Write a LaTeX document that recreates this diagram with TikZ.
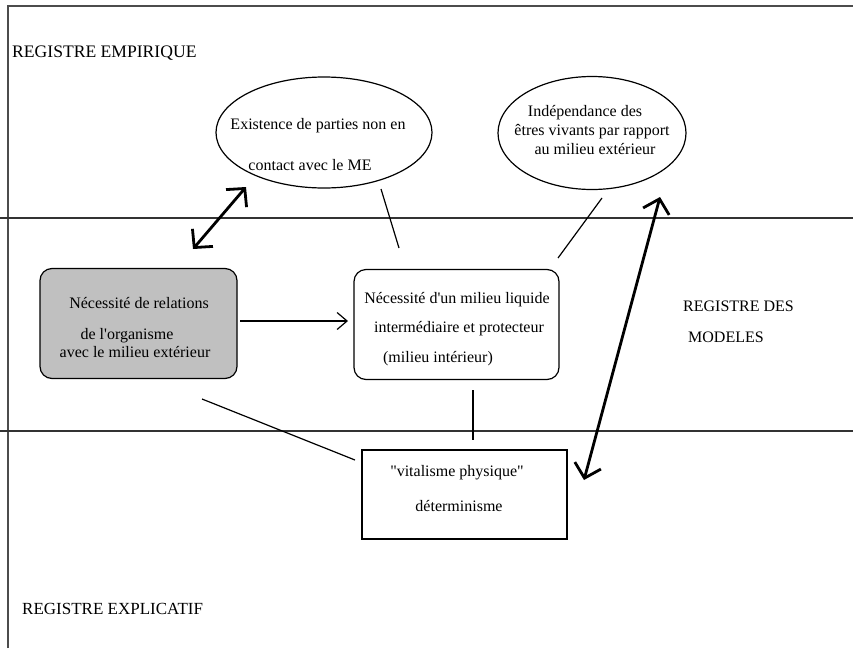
\documentclass[tikz,border=0pt]{standalone}
\usepackage{fontspec}
\setmainfont{Liberation Serif}[Ligatures=TeXOff]
\usetikzlibrary{shapes.geometric,arrows.meta}
\begin{document}
\begin{tikzpicture}[x=1pt,y=-1pt,
  txt/.style={inner sep=0pt, anchor=base, font=\fontsize{16}{19}\selectfont},
  txtw/.style={txt, anchor=base west},
  ellip/.style={draw, ellipse, line width=1.2pt, inner sep=0pt},
  rbox/.style={draw, rounded corners=12pt, line width=1.2pt, inner sep=0pt},
  sbox/.style={draw, line width=1.2pt, inner sep=0pt},
  thin/.style={line width=1.2pt},
  band/.style={line width=1.4pt, black!80},
  thickarrow/.style={line width=2.8pt, {Straight Barb[length=13pt,width=27pt]}-{Straight Barb[length=13pt,width=27pt]}},
  thinarrow/.style={line width=1.2pt, -{Straight Barb[length=10pt,width=17pt]}}
]
\useasboundingbox (0,0) rectangle (853,648);
% frame
\draw[line width=1.5pt, black!70] (8,648) -- (8,6) -- (853,6);
% register bands
\draw[band] (0,218) -- (853,218);
\draw[band] (0,431) -- (853,431);

% register labels
\node[txtw, font=\fontsize{17.6}{20}\selectfont] (regemp) at (12,57.5) {REGISTRE EMPIRIQUE};
\node[txtw] (regmod1) at (683,311) {REGISTRE DES};
\node[txtw] (regmod2) at (688,342) {MODELES};
\node[txtw, font=\fontsize{17}{20}\selectfont] (regexp) at (22,614) {REGISTRE EXPLICATIF};

% shapes
\node[ellip, minimum width=216pt, minimum height=111pt] (e1) at (324,132.5) {};
\node[ellip, minimum width=188pt, minimum height=113pt] (e2) at (592,133) {};
\node[rbox, fill={rgb,255:red,192;green,192;blue,192}, minimum width=197pt, minimum height=110pt] (lb) at (138.5,323.5) {};
\node[rbox, minimum width=205pt, minimum height=110pt] (mb) at (456.5,324.5) {};
\node[sbox, minimum width=205pt, minimum height=89pt] (bb) at (464.5,494.5) {};

% texts
\node[txt] (e1a) at (318,129) {Existence de parties non en};
\node[txt] (e1b) at (310,170) {contact avec le ME};
\node[txt] (e2a) at (585,116) {Indépendance des};
\node[txt] (e2b) at (592,135) {êtres vivants par rapport};
\node[txt] (e2c) at (595,154) {au milieu extérieur};
\node[txt] (lba) at (139,308) {Nécessité de relations};
\node[txt] (lbb) at (127,339) {de l'organisme};
\node[txt] (lbc) at (135,357) {avec le milieu extérieur};
\node[txt] (mba) at (457,303) {Nécessité d'un milieu liquide};
\node[txt] (mbb) at (459,332.5) {intermédiaire et protecteur};
\node[txt] (mbc) at (438,362) {(milieu intérieur)};
\node[txt] (bba) at (457,476) {"vitalisme physique"};
\node[txt] (bbb) at (459,511) {déterminisme};

% connector end points
\coordinate (l1a) at (381,189);
\coordinate (l1b) at (399,248);
\coordinate (l2a) at (602,198);
\coordinate (l2b) at (558,258);
\coordinate (a1a) at (193,249);
\coordinate (a1b) at (246,187);
\coordinate (a2a) at (660,197);
\coordinate (a2b) at (584,480);
\coordinate (a3a) at (240,321);
\coordinate (a3b) at (348,321);
\coordinate (l3a) at (473,390);
\coordinate (l3b) at (473,440);
\coordinate (l4a) at (202,399);
\coordinate (l4b) at (355,460);

% connectors
\draw[thin] (l1a) -- (l1b);
\draw[thin] (l2a) -- (l2b);
\draw[thin] (l3a) -- (l3b);
\draw[thin] (l4a) -- (l4b);
\draw[thinarrow] (a3a) -- (a3b);
\draw[thickarrow] (a1a) -- (a1b);
\draw[thickarrow] (a2a) -- (a2b);
\end{tikzpicture}
\end{document}
